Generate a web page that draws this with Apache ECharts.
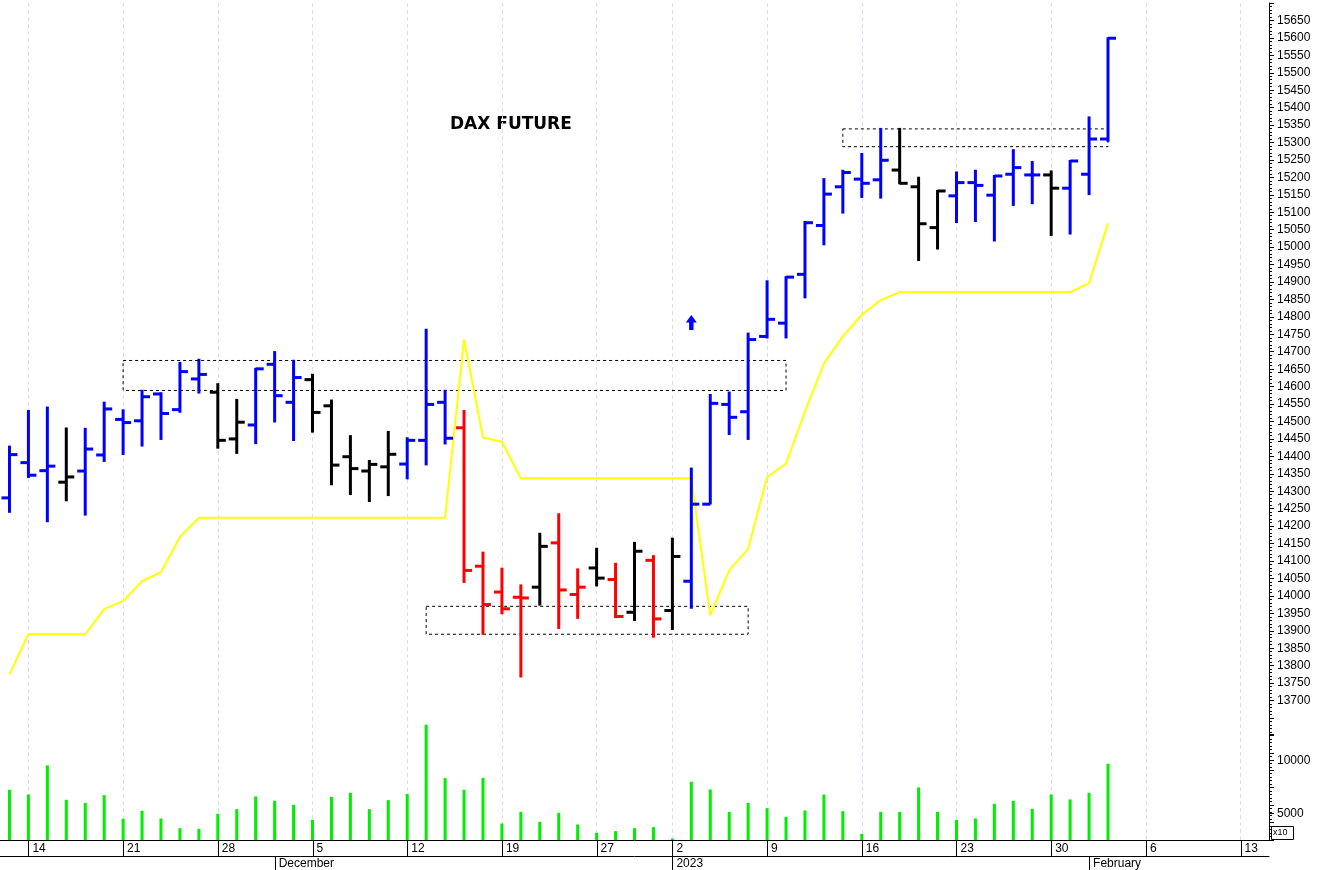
<!DOCTYPE html>
<html>
<head>
<meta charset="utf-8">
<script src="https://cdn.jsdelivr.net/npm/echarts@6/dist/echarts.min.js"></script>
<style>html,body{margin:0;padding:0;background:#fff}#chart{width:1319px;height:870px}</style>
</head>
<body>
<div id="chart"></div>
<script>
// trading days (the last ones are empty space on the right)
var dates = ['2022-11-11',
  '2022-11-14','2022-11-15','2022-11-16','2022-11-17','2022-11-18',
  '2022-11-21','2022-11-22','2022-11-23','2022-11-24','2022-11-25',
  '2022-11-28','2022-11-29','2022-11-30','2022-12-01','2022-12-02',
  '2022-12-05','2022-12-06','2022-12-07','2022-12-08','2022-12-09',
  '2022-12-12','2022-12-13','2022-12-14','2022-12-15','2022-12-16',
  '2022-12-19','2022-12-20','2022-12-21','2022-12-22','2022-12-23',
  '2022-12-27','2022-12-28','2022-12-29','2022-12-30',
  '2023-01-02','2023-01-03','2023-01-04','2023-01-05','2023-01-06',
  '2023-01-09','2023-01-10','2023-01-11','2023-01-12','2023-01-13',
  '2023-01-16','2023-01-17','2023-01-18','2023-01-19','2023-01-20',
  '2023-01-23','2023-01-24','2023-01-25','2023-01-26','2023-01-27',
  '2023-01-30','2023-01-31','2023-02-01','2023-02-02','2023-02-03',
  '2023-02-06','2023-02-07','2023-02-08','2023-02-09','2023-02-10',
  '2023-02-13','2023-02-14'];
var monthNames = {'2022-12':'December','2023-01':'2023','2023-02':'February'};

var opens  = [14281,14382,14359,14326,14358,14404,14506,14502,14579,14534,14622,14584,14450,14490,14664,14555,14620,14545,14399,14358,
              14370,14378,14446,14555,14482,14085,14011,13996,14025,14152,14004,14080,14047,13953,14102,13958,14042,14263,14549,14528,
              14744,14782,14922,15062,15173,15195,15193,15221,15173,15056,15147,15185,15149,15209,15207,15207,15169,15209,15310];
var highs  = [14428,14530,14540,14480,14479,14554,14532,14588,14581,14668,14677,14607,14562,14651,14699,14674,14634,14560,14458,14387,
              14470,14452,14763,14588,14530,14124,14078,14030,14178,14234,14076,14135,14092,14152,14114,14164,14365,14576,14583,14752,
              14902,14914,15072,15195,15219,15267,15339,15339,15199,15161,15214,15219,15204,15278,15244,15217,15247,15372,15599];
var lows   = [14241,14341,14214,14274,14233,14387,14407,14431,14450,14528,14583,14425,14410,14438,14500,14447,14471,14320,14292,14272,
              14289,14337,14377,14437,14040,13891,13950,13769,13975,13908,13937,14030,13939,13931,13883,13905,13966,14265,14464,14450,
              14741,14741,14856,15008,15099,15144,15142,15183,14963,14996,15072,15075,15019,15121,15126,15035,15039,15152,15305];
var closes = [14405,14346,14372,14341,14421,14536,14497,14571,14523,14643,14635,14446,14498,14651,14574,14626,14526,14375,14365,14377,
              14406,14446,14549,14452,14073,13975,13963,13994,14142,14017,14025,14051,13941,14128,13934,14113,14263,14552,14512,14735,
              14793,14914,15070,15152,15214,15183,15249,15183,15067,15161,15185,15177,15204,15228,15207,15169,15247,15310,15599];
// B = blue, K = black, R = red
var barColors = 'BBBKBBBBBBBKKBBBKKKKKBBBRRRRKRRKRKRKBBBBBBBBBBBKKKBBBBBKBBB';
var stopLine = [13775,13890,13890,13890,13890,13962,13985,14042,14068,14169,14224,14224,14224,14224,14224,14224,14224,14224,14224,14224,
                14224,14224,14224,14224,14735,14454,14442,14337,14337,14337,14337,14337,14337,14337,14337,14337,14337,13944,14073,14135,
                14341,14379,14528,14666,14744,14806,14848,14871,14871,14871,14871,14871,14871,14871,14871,14871,14871,14897,15068];
var volumes = [7236,6792,9528,6290,6006,6730,4497,5252,4528,3616,3553,4968,5410,6604,6195,5817,4402,6572,6950,5410,
               6258,6856,13368,8334,7236,8366,4057,5157,4214,5063,3962,3176,3333,3616,3710,2640,7990,7264,5157,6006,
               5503,4685,5283,6792,5220,3082,5157,5157,7453,5157,4402,4528,5912,6195,5440,6792,6321,6950,9685];
// dashed boxes: [first bar, last bar, top price, bottom price]
var boxes = [[6,41,14675,14589],[22,39,13970,13890],[44,58,15339,15288]];

var colorMap = {B:'#0000ff', K:'#000000', R:'#ff0000'};
var dow = function (i) { return new Date(dates[i] + 'T12:00:00Z').getUTCDay(); };
var isWeekStart = function (i) { return i > 0 && dow(i) <= dow(i - 1); };
var isMonthStart = function (i) { return i > 0 && dates[i].slice(0,7) !== dates[i-1].slice(0,7); };
var weekStarts = [], monthStarts = [];
dates.forEach(function (d, i) {
  if (isWeekStart(i)) weekStarts.push(i);
  if (isMonthStart(i)) monthStarts.push(i);
});

var ohlc = opens.map(function (o, i) {
  return {value: [i, o, highs[i], lows[i], closes[i]], itemStyle: {color: colorMap[barColors[i]]}};
});

var font = 'Liberation Sans';
var myChart = echarts.init(document.getElementById('chart'));
option = {
  animation: false,
  grid: [
    {left: 0, right: 50, top: 3, bottom: 30},
    {left: 0, right: 50, top: 718, bottom: 30}
  ],
  graphic: [
    {type: 'text', left: 450, top: 116, style: {text: 'DAX FUTURE', font: 'bold 17px "DejaVu Sans"', fill: '#000'}},
    {type: 'rect', left: 1271, top: 826, shape: {width: 22, height: 13}, style: {fill: '#fff', stroke: '#000', lineWidth: 1}},
    {type: 'text', left: 1273, top: 828, style: {text: 'x10', font: '9px ' + font, fill: '#000'}}
  ],
  xAxis: [
    {type: 'category', gridIndex: 0, data: dates, boundaryGap: true,
      axisLine: {show: false}, axisTick: {show: false}, axisLabel: {show: false}, splitLine: {show: false}},
    {type: 'category', gridIndex: 1, data: dates, boundaryGap: true,
      axisLine: {lineStyle: {color: '#000'}}, axisTick: {show: false},
      axisLabel: {interval: function (i) { return isWeekStart(i); }, align: 'left', margin: 3, padding: [0,0,0,4],
        fontFamily: font, fontSize: 12, color: '#000',
        formatter: function (v) { return String(Number(v.slice(8))); }},
      splitLine: {show: false}},
    {type: 'category', gridIndex: 1, data: dates, boundaryGap: true, position: 'bottom', offset: 16,
      axisLine: {lineStyle: {color: '#000'}}, axisTick: {show: false},
      axisLabel: {interval: function (i) { return isMonthStart(i); }, align: 'left', margin: 2, padding: [0,0,0,4],
        fontFamily: font, fontSize: 12, color: '#000',
        formatter: function (v) { return monthNames[v.slice(0,7)] || ''; }},
      splitLine: {show: false}}
  ],
  yAxis: [
    {type: 'value', gridIndex: 0, position: 'right', min: 13300, max: 15700, interval: 50,
      axisLine: {show: true, lineStyle: {color: '#000'}},
      axisTick: {show: true, length: 5, lineStyle: {color: '#000'}},
      minorTick: {show: true, splitNumber: 5, length: 3, lineStyle: {color: '#000'}},
      axisLabel: {margin: 8, fontFamily: font, fontSize: 12, color: '#000',
        formatter: function (v) { return (v >= 13700 && v <= 15650) ? String(v) : ''; }},
      splitLine: {show: false}},
    {type: 'value', gridIndex: 1, position: 'right', min: 2500, max: 14000, interval: 2500,
      axisLine: {show: true, lineStyle: {color: '#000'}},
      axisTick: {show: true, length: 5, lineStyle: {color: '#000'}},
      axisLabel: {margin: 8, fontFamily: font, fontSize: 12, color: '#000',
        formatter: function (v) { return (v === 5000 || v === 10000) ? String(v) : ''; }},
      splitLine: {show: false}}
  ],
  series: [
    {type: 'bar', xAxisIndex: 1, yAxisIndex: 1, data: volumes, barWidth: 3, z: 4,
      itemStyle: {color: '#00ee00'}},
    {type: 'line', xAxisIndex: 0, yAxisIndex: 0, data: stopLine, symbol: 'none',
      lineStyle: {color: '#ffff00', width: 2}, z: 2,
      markLine: {silent: true, symbol: 'none', label: {show: false}, z: 0,
        lineStyle: {color: '#dcdcf0', type: [4, 3], width: 1},
        data: weekStarts.map(function (i) { return {xAxis: i}; })},
      markArea: {silent: true, itemStyle: {color: 'rgba(0,0,0,0)', borderColor: '#000', borderWidth: 1, borderType: [3, 3]},
        data: boxes.map(function (b) {
          return [{coord: [b[0], b[2]]}, {coord: [b[1], b[3]]}];
        })},
      markPoint: {silent: true, symbol: 'path://M5,0 L10,6 L7,6 L7,12 L3,12 L3,6 L0,6 Z', symbolSize: [11, 15],
        itemStyle: {color: '#0000ff'}, label: {show: false},
        data: [{coord: [36, 14784]}]}},
    {type: 'custom', xAxisIndex: 0, yAxisIndex: 0, data: ohlc, z: 5,
      renderItem: function (params, api) {
        var x = api.value(0);
        var o = api.coord([x, api.value(1)]);
        var h = api.coord([x, api.value(2)]);
        var l = api.coord([x, api.value(3)]);
        var c = api.coord([x, api.value(4)]);
        var st = {stroke: api.visual('color'), lineWidth: 3};
        return {type: 'group', children: [
          {type: 'line', shape: {x1: h[0], y1: h[1] - 1, x2: l[0], y2: l[1] + 1}, style: st},
          {type: 'line', shape: {x1: o[0] - 8, y1: o[1], x2: o[0], y2: o[1]}, style: st},
          {type: 'line', shape: {x1: c[0], y1: c[1], x2: c[0] + 8, y2: c[1]}, style: st}
        ]};
      }}
  ]
};
myChart.setOption(option);

// tick marks of the two date rows, placed through the category axis
var ticks = [];
weekStarts.forEach(function (i) {
  var x = Math.round(myChart.convertToPixel({xAxisIndex: 1}, i)) + 0.5;
  ticks.push({type: 'line', shape: {x1: x, y1: 840, x2: x, y2: 856}, style: {stroke: '#000', lineWidth: 1}});
});
monthStarts.forEach(function (i) {
  var x = Math.round(myChart.convertToPixel({xAxisIndex: 2}, i)) + 0.5;
  ticks.push({type: 'line', shape: {x1: x, y1: 856, x2: x, y2: 870}, style: {stroke: '#000', lineWidth: 1}});
});
myChart.setOption({graphic: option.graphic.concat(ticks)});
</script>
</body>
</html>
